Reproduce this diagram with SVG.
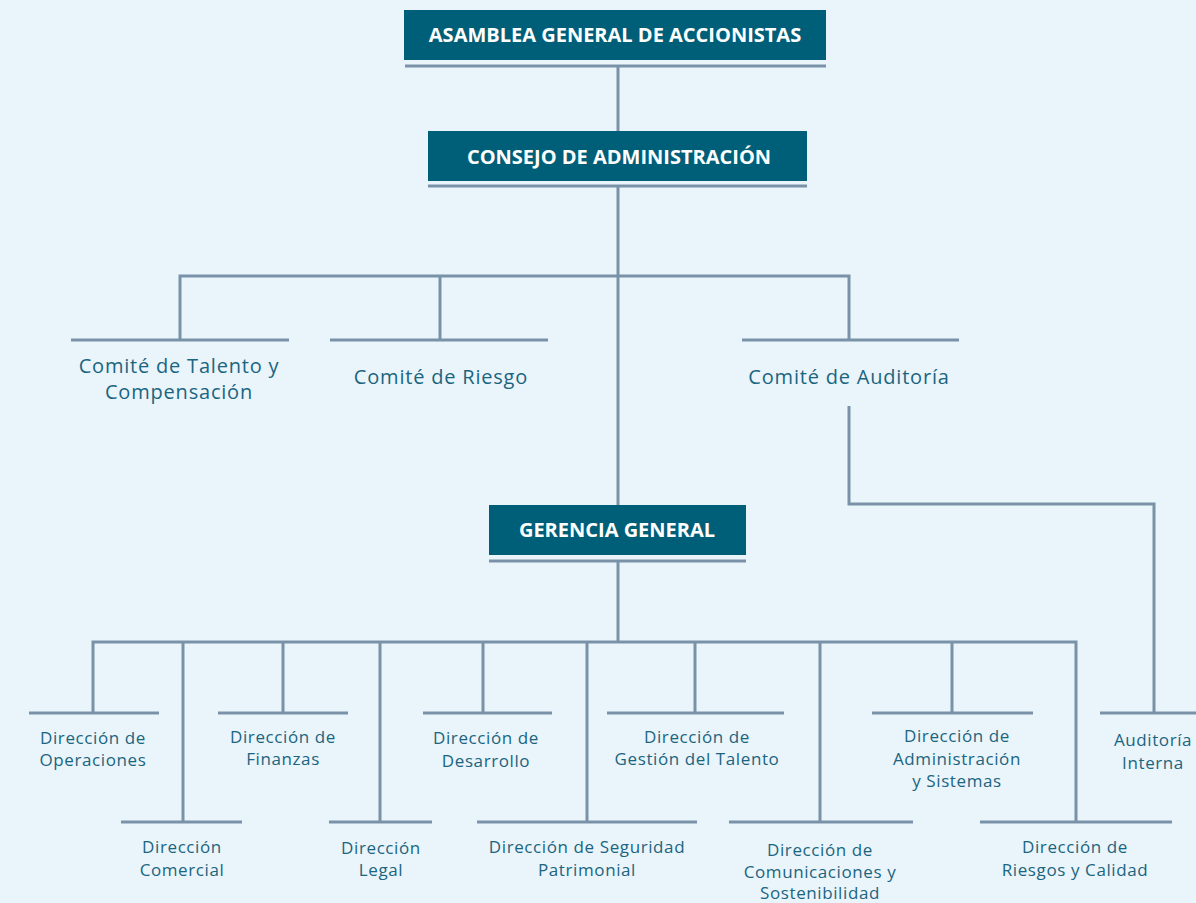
<svg xmlns="http://www.w3.org/2000/svg" width="1196" height="903" viewBox="0 0 1196 903">
<style>
.bg{fill:#EAF4FB}
.box{fill:#005F78}
.ln{stroke:#7A92A8;stroke-width:3;fill:none}
.bt{font-family:"Open Sans","Liberation Sans",sans-serif;font-weight:700;font-size:20px;fill:#FFFFFF;text-anchor:middle}
.ct{font-family:"Open Sans","Liberation Sans",sans-serif;font-size:20px;letter-spacing:0.8px;fill:#1A6580;text-anchor:middle}
.dt{font-family:"Open Sans","Liberation Sans",sans-serif;font-size:17px;letter-spacing:0.6px;fill:#1A6580;text-anchor:middle}
</style>
<rect class="bg" x="0" y="0" width="1196" height="903"/>
<g id="connectors">
<path class="ln" d="M618 66V131"/>
<path class="ln" d="M618 186V505"/>
<path class="ln" d="M180 340V276H849V340"/>
<path class="ln" d="M440 276V340"/>
<path class="ln" d="M849 406V504H1154V713"/>
<path class="ln" d="M618 561V642"/>
<path class="ln" d="M93 713V642H1076V822"/>
<path class="ln" d="M183 642V822"/>
<path class="ln" d="M283 642V713"/>
<path class="ln" d="M380 642V822"/>
<path class="ln" d="M483 642V713"/>
<path class="ln" d="M587 642V822"/>
<path class="ln" d="M695 642V713"/>
<path class="ln" d="M820 642V822"/>
<path class="ln" d="M952 642V713"/>
</g>
<g id="asamblea">
<rect class="box" x="404" y="10" width="422" height="50"/>
<path class="ln" d="M405 66H826"/>
<text class="bt" x="615" y="42">ASAMBLEA GENERAL DE ACCIONISTAS</text>
</g>
<g id="consejo">
<rect class="box" x="428" y="131" width="379" height="50"/>
<path class="ln" d="M428 186H807"/>
<text class="bt" x="619" y="164">CONSEJO DE ADMINISTRACIÓN</text>
</g>
<g id="comite-talento">
<path class="ln" d="M71 340H289"/>
<text class="ct" x="179" y="373">Comité de Talento y</text>
<text class="ct" x="179" y="399">Compensación</text>
</g>
<g id="comite-riesgo">
<path class="ln" d="M330 340H548"/>
<text class="ct" x="441" y="384">Comité de Riesgo</text>
</g>
<g id="comite-auditoria">
<path class="ln" d="M742 340H959"/>
<text class="ct" x="849" y="384">Comité de Auditoría</text>
</g>
<g id="gerencia">
<rect class="box" x="489" y="505" width="257" height="50"/>
<path class="ln" d="M489 561H746"/>
<text class="bt" x="617" y="537">GERENCIA GENERAL</text>
</g>
<g id="operaciones">
<path class="ln" d="M29 713H159"/>
<text class="dt" x="93" y="744">Dirección de</text>
<text class="dt" x="93" y="766">Operaciones</text>
</g>
<g id="comercial">
<path class="ln" d="M121 822H242"/>
<text class="dt" x="182" y="853">Dirección</text>
<text class="dt" x="182" y="876">Comercial</text>
</g>
<g id="finanzas">
<path class="ln" d="M218 713H348"/>
<text class="dt" x="283" y="743">Dirección de</text>
<text class="dt" x="283" y="765">Finanzas</text>
</g>
<g id="legal">
<path class="ln" d="M329 822H432"/>
<text class="dt" x="381" y="854">Dirección</text>
<text class="dt" x="381" y="876">Legal</text>
</g>
<g id="desarrollo">
<path class="ln" d="M423 713H552"/>
<text class="dt" x="486" y="744">Dirección de</text>
<text class="dt" x="486" y="767">Desarrollo</text>
</g>
<g id="seguridad">
<path class="ln" d="M477 822H697"/>
<text class="dt" x="587" y="853">Dirección de Seguridad</text>
<text class="dt" x="587" y="876">Patrimonial</text>
</g>
<g id="gestion-talento">
<path class="ln" d="M607 713H784"/>
<text class="dt" x="697" y="743">Dirección de</text>
<text class="dt" x="697" y="765">Gestión del Talento</text>
</g>
<g id="comunicaciones">
<path class="ln" d="M729 822H913"/>
<text class="dt" x="820" y="856">Dirección de</text>
<text class="dt" x="820" y="878">Comunicaciones y</text>
<text class="dt" x="820" y="899">Sostenibilidad</text>
</g>
<g id="administracion">
<path class="ln" d="M872 713H1033"/>
<text class="dt" x="957" y="742">Dirección de</text>
<text class="dt" x="957" y="765">Administración</text>
<text class="dt" x="957" y="787">y Sistemas</text>
</g>
<g id="riesgos-calidad">
<path class="ln" d="M980 822H1172"/>
<text class="dt" x="1075" y="853">Dirección de</text>
<text class="dt" x="1075" y="876">Riesgos y Calidad</text>
</g>
<g id="auditoria-interna">
<path class="ln" d="M1100 713H1196"/>
<text class="dt" x="1153" y="746">Auditoría</text>
<text class="dt" x="1153" y="769">Interna</text>
</g>
</svg>
